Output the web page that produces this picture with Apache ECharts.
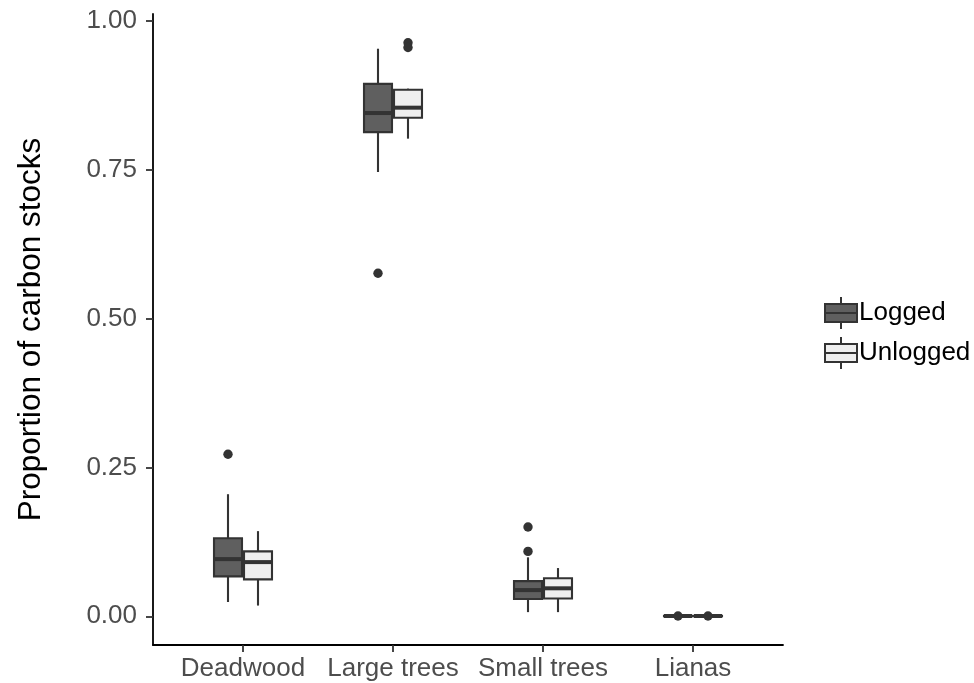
<!DOCTYPE html>
<html>
<head>
<meta charset="utf-8">
<script src="https://cdn.jsdelivr.net/npm/echarts@6/dist/echarts.min.js"></script>
<style>html,body{margin:0;padding:0;background:#fff}#c{width:974px;height:683px}</style>
</head>
<body>
<div id="c"></div>
<script>
const categories = ['Deadwood', 'Large trees', 'Small trees', 'Lianas'];
const yTicks = [0, 0.25, 0.5, 0.75, 1.0];
// [categoryIndex, lowerWhisker, Q1, median, Q3, upperWhisker]
const loggedBoxes = [
  [0, 0.024, 0.067, 0.096, 0.131, 0.205],
  [1, 0.746, 0.813, 0.845, 0.894, 0.953],
  [2, 0.007, 0.029, 0.044, 0.059, 0.099],
  [3, 0.0, 0.0003, 0.0005, 0.0008, 0.001]
];
const unloggedBoxes = [
  [0, 0.018, 0.062, 0.091, 0.109, 0.143],
  [1, 0.802, 0.837, 0.854, 0.884, 0.886],
  [2, 0.007, 0.030, 0.047, 0.064, 0.081],
  [3, 0.0, 0.0003, 0.0005, 0.0008, 0.001]
];
// [categoryIndex, value]
const loggedOutliers = [[0, 0.272], [1, 0.576], [2, 0.150], [2, 0.109], [3, 0.0005]];
const unloggedOutliers = [[1, 0.963], [1, 0.955], [3, 0.0005]];

const LOGGED_FILL = '#5f5f5f';
const UNLOGGED_FILL = '#efefef';
const LINE = '#333333';
const DODGE = 0.1, HALF_W = 0.0933;
const FONT = 'Liberation Sans, Arial, sans-serif';

function boxRenderer(off, fill) {
  return function (params, api) {
    const x = api.value(0) + 1 + off;
    const lo = api.coord([x, api.value(1)]);
    const q1 = api.coord([x, api.value(2)]);
    const md = api.coord([x, api.value(3)]);
    const q3 = api.coord([x, api.value(4)]);
    const hi = api.coord([x, api.value(5)]);
    const hw = api.size([HALF_W, 0])[0];
    const cx = lo[0];
    return {
      type: 'group',
      children: [
        {type: 'line', shape: {x1: cx, y1: q3[1], x2: cx, y2: hi[1]}, style: {stroke: LINE, lineWidth: 2.1}},
        {type: 'line', shape: {x1: cx, y1: q1[1], x2: cx, y2: lo[1]}, style: {stroke: LINE, lineWidth: 2.1}},
        {type: 'rect', shape: {x: cx - hw, y: q3[1], width: 2 * hw, height: Math.max(q1[1] - q3[1], 0.5)},
          style: {fill: fill, stroke: LINE, lineWidth: 2.1}},
        {type: 'line', shape: {x1: cx - hw, y1: md[1], x2: cx + hw, y2: md[1]}, style: {stroke: LINE, lineWidth: 4}}
      ]
    };
  };
}
function outlierRenderer(off) {
  return function (params, api) {
    const p = api.coord([api.value(0) + 1 + off, api.value(1)]);
    return {type: 'circle', shape: {cx: p[0], cy: p[1], r: 4.7}, style: {fill: LINE}};
  };
}

const iconPath = 'path://M0,7 L32,7 L32,25 L0,25 Z M0,16 L32,16 M16,0 L16,7 M16,25 L16,32';

const chart = echarts.init(document.getElementById('c'), null, {renderer: 'canvas'});
chart.setOption({
  animation: false,
  backgroundColor: '#ffffff',
  textStyle: {fontFamily: FONT},
  grid: {left: 153, right: 191, top: 14, bottom: 38},
  legend: {
    orient: 'vertical', left: 819, top: 291,
    itemWidth: 32, itemHeight: 32, itemGap: 6,
    textStyle: {fontSize: 26, color: '#000', fontFamily: FONT, padding: [0, 0, 0, -3]},
    data: [
      {name: 'Logged', icon: iconPath, itemStyle: {color: LOGGED_FILL, borderColor: LINE, borderWidth: 2}},
      {name: 'Unlogged', icon: iconPath, itemStyle: {color: UNLOGGED_FILL, borderColor: LINE, borderWidth: 2}}
    ]
  },
  xAxis: {
    type: 'value', min: 0.4, max: 4.6,
    splitLine: {show: false},
    axisLine: {show: true, onZero: false, lineStyle: {color: '#000', width: 1.8}},
    axisTick: {show: true, length: 7, customValues: [1, 2, 3, 4], lineStyle: {color: '#333', width: 1.8}},
    axisLabel: {
      customValues: [1, 2, 3, 4], fontSize: 26, color: '#4d4d4d', margin: 11, fontFamily: FONT,
      formatter: v => categories[Math.round(v) - 1]
    }
  },
  yAxis: {
    type: 'value', min: -0.0482, max: 1.0113,
    name: 'Proportion of carbon stocks', nameLocation: 'middle', nameGap: 106,
    nameTextStyle: {fontSize: 31.5, color: '#000', fontFamily: FONT},
    splitLine: {show: false},
    axisLine: {show: true, onZero: false, lineStyle: {color: '#000', width: 1.8}},
    axisTick: {show: true, length: 7, customValues: yTicks, lineStyle: {color: '#333', width: 1.8}},
    axisLabel: {customValues: yTicks, fontSize: 26, color: '#4d4d4d', margin: 16, fontFamily: FONT, formatter: v => v.toFixed(2)}
  },
  series: [
    {name: 'Logged', type: 'custom', renderItem: boxRenderer(-DODGE, LOGGED_FILL), itemStyle: {color: LOGGED_FILL},
      encode: {x: 0, y: [1, 2, 3, 4, 5]}, data: loggedBoxes},
    {name: 'Unlogged', type: 'custom', renderItem: boxRenderer(DODGE, UNLOGGED_FILL), itemStyle: {color: UNLOGGED_FILL},
      encode: {x: 0, y: [1, 2, 3, 4, 5]}, data: unloggedBoxes},
    {name: 'Logged', type: 'custom', renderItem: outlierRenderer(-DODGE), itemStyle: {color: LOGGED_FILL},
      encode: {x: 0, y: 1}, data: loggedOutliers},
    {name: 'Unlogged', type: 'custom', renderItem: outlierRenderer(DODGE), itemStyle: {color: UNLOGGED_FILL},
      encode: {x: 0, y: 1}, data: unloggedOutliers}
  ]
});
</script>
</body>
</html>
